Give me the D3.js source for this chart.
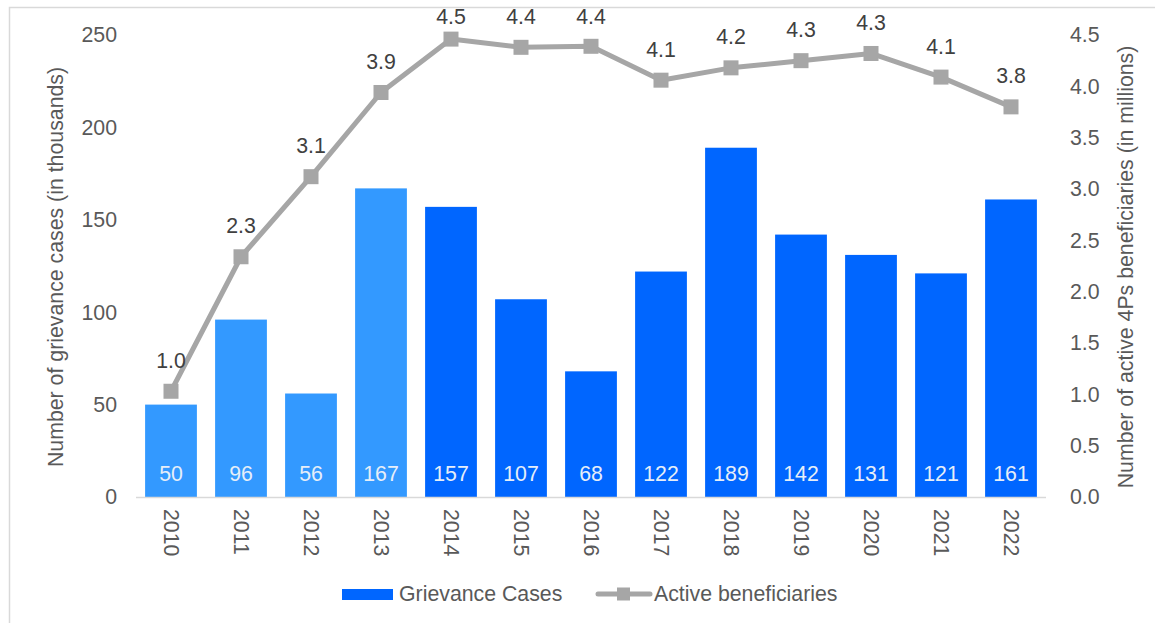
<!DOCTYPE html>
<html>
<head>
<meta charset="utf-8">
<script src="https://cdn.jsdelivr.net/npm/d3@7"></script>
<style>
  body { margin: 0; background: #fff; }
  svg { display: block; font-family: Arial, "Liberation Sans", sans-serif; }
</style>
</head>
<body>
<svg id="chart" width="1155" height="623"></svg>
<script>
// Chart data
const years = ["2010", "2011", "2012", "2013", "2014", "2015", "2016",
  "2017", "2018", "2019", "2020", "2021", "2022"];
const grievances = [50, 96, 56, 167, 157, 107, 68, 122, 189, 142, 131, 121, 161];
const beneficiaries = [1.03, 2.34, 3.12, 3.94, 4.46, 4.38, 4.39, 4.06, 4.18, 4.25, 4.32, 4.09, 3.80];
const leftTicks = [0, 50, 100, 150, 200, 250];
const rightTicks = [0, 0.5, 1, 1.5, 2, 2.5, 3, 3.5, 4, 4.5];
const seriesNames = ["Grievance Cases", "Active beneficiaries"];

// Colours
const LIGHT_BLUE = "#3399ff";
const DARK_BLUE = "#0066ff";
const LINE_GRAY = "#a6a6a6";
const TEXT_GRAY = "#595959";

// Font size used for every text
const FS = 21.3;

// Plot area
const X0 = 136, X1 = 1046;
const Y_TOP = 35, Y_BASE = 497;

const svg = d3.select("#chart");

// Outer frame (only top and left edges are visible)
svg.append("rect")
  .attr("x", 9.5).attr("y", 7.5)
  .attr("width", 1200).attr("height", 700)
  .attr("fill", "none")
  .attr("stroke", "#d9d9d9")
  .attr("stroke-width", 1.5);

const x = d3.scaleBand().domain(years).range([X0, X1]).paddingInner(0.26).paddingOuter(0.13);
const yLeft = d3.scaleLinear().domain([0, 250]).range([Y_BASE, Y_TOP]);
const yRight = d3.scaleLinear().domain([0, 4.5]).range([Y_BASE, Y_TOP]);

// Bars
svg.append("g").selectAll("rect")
  .data(grievances)
  .enter()
  .append("rect")
  .attr("x", (d, i) => x(years[i]))
  .attr("y", (d) => yLeft(d))
  .attr("width", x.bandwidth())
  .attr("height", (d) => Y_BASE - yLeft(d))
  .attr("fill", (d, i) => (+years[i] <= 2013 ? LIGHT_BLUE : DARK_BLUE));

// Bar value labels near the bottom of the bars
svg.append("g").selectAll("text")
  .data(grievances)
  .enter()
  .append("text")
  .attr("x", (d, i) => x(years[i]) + x.bandwidth() / 2)
  .attr("y", Y_BASE - 23)
  .attr("dy", "0.35em")
  .attr("text-anchor", "middle")
  .attr("font-size", FS)
  .attr("fill", "#e6eef8")
  .text((d) => d);

// Baseline
svg.append("line")
  .attr("x1", X0).attr("x2", X1)
  .attr("y1", Y_BASE + 0.5).attr("y2", Y_BASE + 0.5)
  .attr("stroke", "#d9d9d9").attr("stroke-width", 1.5);

// Left axis
const leftAxis = svg.append("g")
  .attr("transform", `translate(${X0 - 19},0)`)
  .call(d3.axisLeft(yLeft).tickValues(leftTicks).tickSize(0).tickPadding(0));
leftAxis.select(".domain").remove();
leftAxis.selectAll("text").attr("font-size", FS).attr("fill", TEXT_GRAY)
  .attr("font-family", "Arial, 'Liberation Sans', sans-serif");

// Right axis
const rightAxis = svg.append("g")
  .attr("transform", `translate(${X1 + 24},0)`)
  .call(d3.axisRight(yRight).tickValues(rightTicks).tickSize(0).tickPadding(0)
    .tickFormat(d3.format(".1f")));
rightAxis.select(".domain").remove();
rightAxis.selectAll("text").attr("font-size", FS).attr("fill", TEXT_GRAY)
  .attr("font-family", "Arial, 'Liberation Sans', sans-serif");

// Year labels, rotated
svg.append("g").selectAll("text")
  .data(years)
  .enter()
  .append("text")
  .attr("transform", (d) => `translate(${x(d) + x.bandwidth() / 2},${Y_BASE + 12}) rotate(90)`)
  .attr("dy", "0.35em")
  .attr("font-size", FS)
  .attr("fill", TEXT_GRAY)
  .text((d) => d);

// Axis titles
svg.append("text")
  .attr("transform", `translate(56,267) rotate(-90)`)
  .attr("text-anchor", "middle")
  .attr("dy", "0.35em")
  .attr("font-size", FS)
  .attr("fill", TEXT_GRAY)
  .text("Number of grievance cases (in thousands)");

svg.append("text")
  .attr("transform", `translate(1126,267) rotate(-90)`)
  .attr("text-anchor", "middle")
  .attr("dy", "0.35em")
  .attr("font-size", FS)
  .attr("fill", TEXT_GRAY)
  .text("Number of active 4Ps beneficiaries (in millions)");

// Line series
const cx = (i) => x(years[i]) + x.bandwidth() / 2;
const line = d3.line()
  .x((d, i) => cx(i))
  .y((d) => yRight(d));

svg.append("path")
  .datum(beneficiaries)
  .attr("d", line)
  .attr("fill", "none")
  .attr("stroke", LINE_GRAY)
  .attr("stroke-width", 5)
  .attr("stroke-linejoin", "round");

const MARKER = 15;
svg.append("g").selectAll("rect")
  .data(beneficiaries)
  .enter()
  .append("rect")
  .attr("x", (d, i) => cx(i) - MARKER / 2)
  .attr("y", (d) => yRight(d) - MARKER / 2)
  .attr("width", MARKER)
  .attr("height", MARKER)
  .attr("fill", LINE_GRAY);

// Labels above the markers, kept below the frame's top edge
svg.append("g").selectAll("text")
  .data(beneficiaries)
  .enter()
  .append("text")
  .attr("x", (d, i) => cx(i))
  .attr("y", (d) => Math.max(yRight(d) - 31, 17))
  .attr("dy", "0.35em")
  .attr("text-anchor", "middle")
  .attr("font-size", FS)
  .attr("fill", "#404040")
  .text((d) => d.toFixed(1));

// Legend
const legend = svg.append("g");
legend.append("rect")
  .attr("x", 342).attr("y", 589)
  .attr("width", 51).attr("height", 11)
  .attr("fill", DARK_BLUE);
legend.append("text")
  .attr("x", 399).attr("y", 594)
  .attr("dy", "0.35em")
  .attr("font-size", FS)
  .attr("fill", TEXT_GRAY)
  .text(seriesNames[0]);
legend.append("line")
  .attr("x1", 598).attr("x2", 650)
  .attr("y1", 594).attr("y2", 594)
  .attr("stroke", LINE_GRAY)
  .attr("stroke-width", 5)
  .attr("stroke-linecap", "round");
legend.append("rect")
  .attr("x", 617).attr("y", 587.5)
  .attr("width", 13).attr("height", 13)
  .attr("fill", LINE_GRAY);
legend.append("text")
  .attr("x", 654).attr("y", 594)
  .attr("dy", "0.35em")
  .attr("font-size", FS)
  .attr("fill", TEXT_GRAY)
  .text(seriesNames[1]);
</script>
</body>
</html>
